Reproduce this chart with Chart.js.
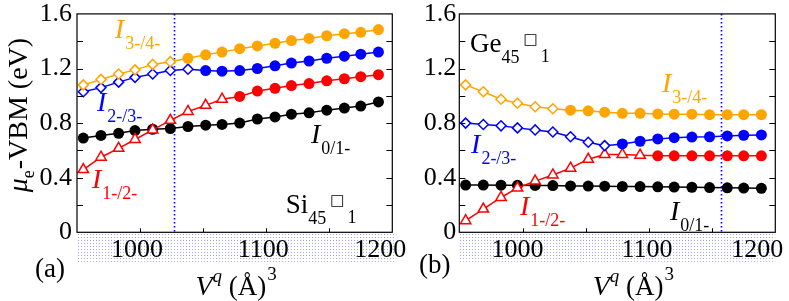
<!DOCTYPE html>
<html><head><meta charset="utf-8">
<script src="https://cdn.jsdelivr.net/npm/chart.js@4/dist/chart.umd.min.js"></script>
<style>
html,body{margin:0;padding:0;background:#fff;}
#wrap{position:relative;width:789px;height:301px;overflow:hidden;background:#fff;}
canvas{position:absolute;top:0;}
#c1{left:0;width:430px;height:301px;}
#c2{left:400px;width:389px;height:301px;}
</style></head><body>
<div id="wrap">
<canvas id="c1" width="430" height="301"></canvas>
<canvas id="c2" width="389" height="301"></canvas>
</div>
<script>
// ---------- data ----------
const volumes = [955, 969, 983, 996, 1010, 1024, 1038, 1052, 1065, 1079, 1093, 1107, 1120, 1134, 1148, 1162, 1175, 1189];
const si_I34 = [1.08, 1.12, 1.16, 1.19, 1.23, 1.25, 1.275, 1.30, 1.32, 1.345, 1.365, 1.385, 1.405, 1.42, 1.44, 1.455, 1.465, 1.485];
const si_I23 = [1.03, 1.06, 1.10, 1.135, 1.16, 1.185, 1.195, 1.185, 1.18, 1.185, 1.20, 1.22, 1.24, 1.255, 1.275, 1.29, 1.305, 1.32];
const si_I12 = [0.46, 0.55, 0.615, 0.68, 0.75, 0.82, 0.885, 0.93, 0.975, 0.995, 1.035, 1.055, 1.075, 1.09, 1.11, 1.125, 1.14, 1.155];
const si_I01 = [0.69, 0.71, 0.725, 0.745, 0.755, 0.76, 0.775, 0.785, 0.79, 0.80, 0.83, 0.845, 0.865, 0.875, 0.895, 0.91, 0.925, 0.955];
const ge_I34 = [1.08, 1.03, 0.975, 0.945, 0.92, 0.905, 0.895, 0.89, 0.88, 0.872, 0.872, 0.867, 0.865, 0.865, 0.862, 0.862, 0.862, 0.862];
const ge_I23 = [0.80, 0.79, 0.78, 0.765, 0.75, 0.735, 0.70, 0.66, 0.635, 0.647, 0.667, 0.684, 0.693, 0.698, 0.70, 0.706, 0.711, 0.713];
const ge_I12 = [0.085, 0.17, 0.255, 0.325, 0.375, 0.42, 0.47, 0.535, 0.57, 0.57, 0.565, 0.56, 0.56, 0.56, 0.56, 0.56, 0.56, 0.56];
const ge_I01 = [0.346, 0.346, 0.345, 0.344, 0.343, 0.342, 0.340, 0.339, 0.338, 0.336, 0.335, 0.333, 0.331, 0.330, 0.328, 0.326, 0.324, 0.322];
// number of leading open (hollow) markers per series: I3-/4-, I2-/3-, I1-/2-, I0/1-
const si_open = [6, 7, 9, 0];
const ge_open = [6, 9, 11, 0];
const seriesNames = ['I3-/4-', 'I2-/3-', 'I1-/2-', 'I0/1-'];
const subTexts = ['3-/4-', '2-/3-', '1-/2-', '0/1-'];
const yTickValues = [0, 0.4, 0.8, 1.2, 1.6];
const xTickLabels = [1000, 1100, 1200];
const si_divider = 1027;
const ge_divider = 1157;

// ---------- styles ----------
const COLORS = ['#FFA500', '#0000FF', '#FF0000', '#000000'];
const OPEN_STYLE = ['rectRot', 'rectRot', 'triangle', 'circle'];
const SERIF = '"Liberation Serif", "Times New Roman", serif';
const F_TICK = '26px ' + SERIF;
const F_BIG = '27px ' + SERIF;
const F_IT = 'italic 28px ' + SERIF;
const F_SUB = '18px ' + SERIF;
const F_SUP = 'italic 19px ' + SERIF;
const F_BOX = '15px "DejaVu Sans", sans-serif';

function buildDataset(values, idx, openN) {
  const c = COLORS[idx];
  return {
    label: seriesNames[idx],
    data: values.map((v, i) => ({ x: volumes[i], y: v })),
    borderColor: c,
    borderWidth: 1.5,
    tension: 0,
    fill: false,
    pointStyle: values.map((_, i) => i < openN ? OPEN_STYLE[idx] : 'circle'),
    pointRadius: values.map((_, i) => i < openN ? (OPEN_STYLE[idx] === 'triangle' ? 6 : 5) : 5.5),
    pointBackgroundColor: values.map((_, i) => i < openN ? '#ffffff' : c),
    pointBorderColor: c,
    pointBorderWidth: values.map((_, i) => i < openN ? 1.5 : 0),
  };
}

function drawParts(ctx, x, y, parts, color) {
  let cx = x;
  ctx.textAlign = 'left';
  ctx.textBaseline = 'alphabetic';
  for (const p of parts) {
    ctx.font = p.f;
    ctx.fillStyle = p.c || color;
    cx += (p.dx || 0);
    ctx.fillText(p.t, cx, y + (p.dy || 0));
    cx += ctx.measureText(p.t).width;
  }
  return cx - x;
}
function partsWidth(ctx, parts) {
  let w = 0;
  for (const p of parts) { ctx.font = p.f; w += (p.dx || 0) + ctx.measureText(p.t).width; }
  return w;
}
function iLabel(sub) {
  return [{ t: 'I', f: F_IT }, { t: sub, f: F_SUB, dy: 11, dx: 1 }];
}
function compound(el) {
  return [{ t: el, f: F_BIG }, { t: '45', f: F_SUB, dy: 11, dx: 0 }, { t: '\u25A1', f: F_BOX, dy: -8, dx: 4 }, { t: '1', f: F_SUB, dy: 10, dx: 3 }];
}
const xTitle = [{ t: 'V', f: F_IT }, { t: 'q', f: F_SUP, dy: -13, dx: 0 }, { t: ' (\u00C5)', f: F_BIG }, { t: '3', f: '19px ' + SERIF, dy: -15, dx: 1 }];

let bandPattern = null;
function getPattern(ctx) {
  if (!bandPattern) {
    const pc = document.createElement('canvas');
    pc.width = 3; pc.height = 3;
    const p = pc.getContext('2d');
    p.fillStyle = 'rgba(90,90,255,0.55)';
    p.fillRect(0, 0, 1, 1);
    bandPattern = ctx.createPattern(pc, 'repeat');
  }
  return bandPattern;
}

const deco = {
  id: 'deco',
  beforeDatasetsDraw(chart, args, o) {
    const { ctx, chartArea: a, scales: { x } } = chart;
    ctx.save();
    ctx.fillStyle = getPattern(ctx);
    ctx.fillRect(a.left, a.bottom, a.right - a.left + o.bandExtra, 29.5);
    const px = Math.round(x.getPixelForValue(o.divider)) + 0.5;
    ctx.strokeStyle = '#0000FF';
    ctx.lineWidth = 1.6;
    ctx.setLineDash([1.6, 2.4]);
    ctx.beginPath(); ctx.moveTo(px, a.top); ctx.lineTo(px, a.bottom); ctx.stroke();
    ctx.restore();
  },
  afterDatasetsDraw(chart, args, o) {
    const { ctx, chartArea: a, scales: { x, y } } = chart;
    ctx.save();
    // frame
    ctx.strokeStyle = '#000'; ctx.lineWidth = 1.2;
    ctx.strokeRect(a.left, a.top, a.right - a.left, a.bottom - a.top);
    // inward ticks
    ctx.beginPath();
    for (let v = 0.2; v < 1.6 - 1e-9; v += 0.2) {
      const py = Math.round(y.getPixelForValue(v)) + 0.5;
      ctx.moveTo(a.left, py); ctx.lineTo(a.left + 6, py);
      ctx.moveTo(a.right, py); ctx.lineTo(a.right - 6, py);
    }
    for (let v = 1000; v < 1200; v += 50) {
      const px = Math.round(x.getPixelForValue(v)) + 0.5;
      ctx.moveTo(px, a.bottom); ctx.lineTo(px, a.bottom - 4);
    }
    ctx.lineWidth = 1;
    ctx.stroke();
    // x tick labels
    ctx.font = F_TICK; ctx.fillStyle = '#000'; ctx.textAlign = 'center'; ctx.textBaseline = 'alphabetic';
    xTickLabels.forEach((v, i) => ctx.fillText(String(v), x.getPixelForValue(v) + o.xLabelNudge[i], a.bottom + 24.5));
    // series labels
    o.labels.forEach(l => drawParts(ctx, x.getPixelForValue(l.x), y.getPixelForValue(l.y), l.parts, l.color));
    // x title
    const tw = partsWidth(ctx, xTitle);
    drawParts(ctx, (a.left + a.right) / 2 - tw / 2 + o.titleShift, 295, xTitle, '#000');
    // panel letter
    ctx.font = F_BIG; ctx.fillStyle = '#000'; ctx.textAlign = 'left';
    ctx.fillText(o.letter, o.letterX, o.letterY);
    // y title
    if (o.yTitle) {
      const parts = [{ t: '\u03BC', f: 'italic 28px ' + SERIF }, { t: 'e', f: F_SUB, dy: 7 }, { t: '-VBM (eV)', f: '28px ' + SERIF, dx: 1 }];
      const w = partsWidth(ctx, parts);
      ctx.translate(27, (a.top + a.bottom) / 2 - 8);
      ctx.rotate(-Math.PI / 2);
      drawParts(ctx, -w / 2, 0, parts, '#000');
    }
    ctx.restore();
  }
};

function makePanel(canvasId, series, openList, yAxisWidth, rightPad, tickPad, decoOpts) {
  const datasets = series.map((s, i) => buildDataset(s, i, openList[i]));
  return new Chart(document.getElementById(canvasId), {
    type: 'line',
    data: { datasets },
    plugins: [deco],
    options: {
      responsive: false,
      animation: false,
      events: [],
      layout: { padding: { top: 13.9, left: 0, right: rightPad, bottom: 0 } },
      plugins: { legend: { display: false }, tooltip: { enabled: false }, deco: decoOpts },
      scales: {
        x: {
          type: 'linear', min: 950, max: 1200,
          ticks: { display: false, stepSize: 50 },
          grid: { display: false, drawTicks: false },
          border: { display: false },
          afterFit(s) { s.height = 301 - 232.3; s.paddingLeft = 0; s.paddingRight = 0; }
        },
        y: {
          type: 'linear', min: 0, max: 1.6,
          afterBuildTicks(s) { s.ticks = yTickValues.map(v => ({ value: v })); },
          ticks: { font: { family: '"Liberation Serif", serif', size: 26 }, color: '#000', padding: tickPad,
                   callback: v => String(+v.toFixed(1)) },
          grid: { display: false, drawTicks: false },
          border: { display: false },
          afterFit(s) { s.width = yAxisWidth; s.paddingTop = 0; s.paddingBottom = 0; }
        }
      }
    }
  });
}

makePanel('c1', [si_I34, si_I23, si_I12, si_I01], si_open, 77, 430 - 392.3, 5, {
  divider: si_divider, bandExtra: 4, xLabelNudge: [-3, -3, -12], titleShift: 1.5,
  letter: '(a)', letterX: 35, letterY: 277, yTitle: true,
  labels: [
    { x: 980, y: 1.423, color: COLORS[0], parts: iLabel(subTexts[0]) },
    { x: 965.8, y: 0.889, color: COLORS[1], parts: iLabel(subTexts[1]) },
    { x: 961.8, y: 0.322, color: COLORS[2], parts: iLabel(subTexts[2]) },
    { x: 1135.5, y: 0.654, color: COLORS[3], parts: iLabel(subTexts[3]) },
    { x: 1115.5, y: 0.139, color: '#000', parts: compound('Si') }
  ]
});
makePanel('c2', [ge_I34, ge_I23, ge_I12, ge_I01], ge_open, 59.3, 389 - 375.3, 3, {
  divider: ge_divider, bandExtra: 0, xLabelNudge: [-5, -2, -18], titleShift: 16,
  letter: '(b)', letterX: 19, letterY: 273, yTitle: false,
  labels: [
    { x: 1110.4, y: 1.028, color: COLORS[0], parts: iLabel(subTexts[0]) },
    { x: 959.3, y: 0.581, color: COLORS[1], parts: iLabel(subTexts[1]) },
    { x: 998, y: 0.127, color: COLORS[2], parts: iLabel(subTexts[2]) },
    { x: 1116.7, y: 0.090, color: COLORS[3], parts: iLabel(subTexts[3]) },
    { x: 958.5, y: 1.323, color: '#000', parts: compound('Ge') }
  ]
});
</script>
</body></html>
